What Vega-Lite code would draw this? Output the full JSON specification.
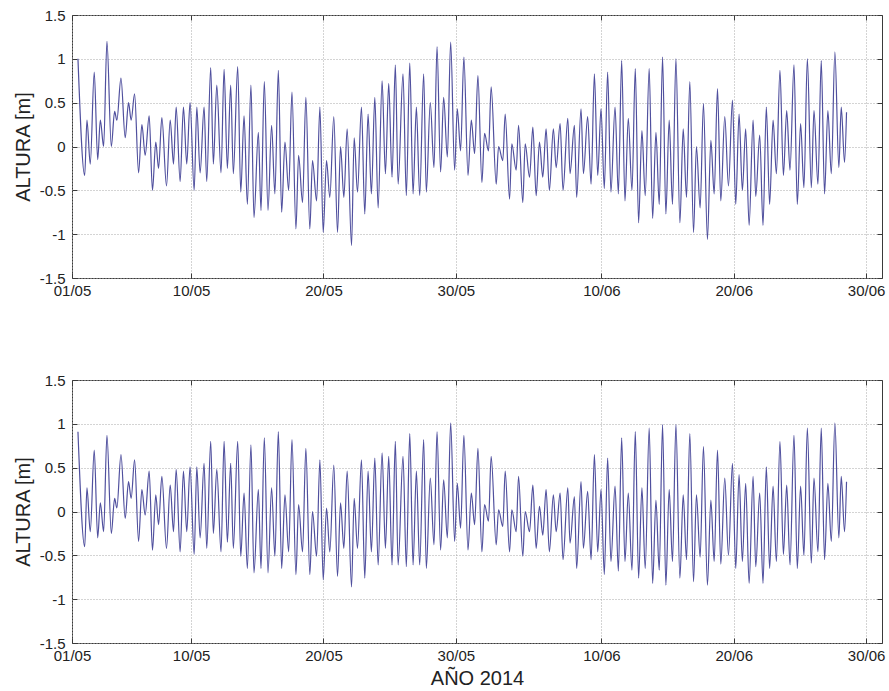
{
  "$schema": "https://vega.github.io/schema/vega-lite/v6.json",
  "autosize": {"type": "pad"},
  "padding": {"left": 12, "top": 7, "right": 4, "bottom": 2},
  "background": "white",
  "bounds": "flush",
  "spacing": 102,
  "config": {
    "font": "Liberation Sans",
    "view": {"stroke": "#3a3a3a", "strokeWidth": 1},
    "axis": {
      "labelFont": "Liberation Sans", "labelFontSize": 15, "labelColor": "#222222",
      "titleFont": "Liberation Sans", "titleFontSize": 20, "titleFontWeight": "normal", "titleColor": "#222222",
      "domain": false, "tickColor": "#3a3a3a", "tickSize": -5,
      "gridColor": "#a8a8a8", "gridDash": [1, 2], "gridWidth": 1
    }
  },
  "datasets": {
    "tide": [
      {"d":0.45,"a":1.00,"b":0.91},{"d":0.96,"a":-0.33,"b":-0.40},{"d":1.13,"a":0.30,"b":0.27},{"d":1.38,"a":-0.20,"b":-0.23},
      {"d":1.68,"a":0.85,"b":0.70},{"d":1.94,"a":-0.15,"b":-0.30},{"d":2.14,"a":0.30,"b":0.10},{"d":2.39,"a":0.00,"b":-0.23},
      {"d":2.64,"a":1.20,"b":0.87},{"d":2.97,"a":0.00,"b":-0.25},{"d":3.22,"a":0.40,"b":0.15},{"d":3.39,"a":0.30,"b":0.04},
      {"d":3.70,"a":0.78,"b":0.65},{"d":4.02,"a":0.10,"b":-0.08},{"d":4.27,"a":0.50,"b":0.34},{"d":4.47,"a":0.30,"b":0.15},
      {"d":4.73,"a":0.60,"b":0.59},{"d":5.03,"a":-0.30,"b":-0.34},{"d":5.28,"a":0.25,"b":0.25},{"d":5.53,"a":-0.10,"b":-0.04},
      {"d":5.83,"a":0.35,"b":0.46},{"d":6.08,"a":-0.50,"b":-0.44},{"d":6.33,"a":0.05,"b":0.19},{"d":6.54,"a":-0.25,"b":-0.15},
      {"d":6.79,"a":0.33,"b":0.40},{"d":7.14,"a":-0.45,"b":-0.42},{"d":7.42,"a":0.30,"b":0.30},{"d":7.67,"a":-0.20,"b":-0.23},
      {"d":7.87,"a":0.45,"b":0.48},{"d":8.17,"a":-0.40,"b":-0.46},{"d":8.42,"a":0.45,"b":0.46},{"d":8.67,"a":-0.20,"b":-0.23},
      {"d":8.92,"a":0.50,"b":0.51},{"d":9.23,"a":-0.50,"b":-0.49},{"d":9.43,"a":0.45,"b":0.51},{"d":9.68,"a":-0.30,"b":-0.30},
      {"d":9.98,"a":0.45,"b":0.55},{"d":10.18,"a":-0.40,"b":-0.42},{"d":10.48,"a":0.90,"b":0.80},{"d":10.68,"a":-0.20,"b":-0.25},
      {"d":10.94,"a":0.70,"b":0.48},{"d":11.26,"a":-0.30,"b":-0.46},{"d":11.49,"a":0.88,"b":0.80},{"d":11.74,"a":-0.25,"b":-0.35},
      {"d":11.99,"a":0.70,"b":0.55},{"d":12.19,"a":-0.31,"b":-0.42},{"d":12.52,"a":0.91,"b":0.80},{"d":12.75,"a":-0.52,"b":-0.51},
      {"d":13.00,"a":0.35,"b":0.21},{"d":13.25,"a":-0.66,"b":-0.65},{"d":13.52,"a":0.70,"b":0.76},{"d":13.75,"a":-0.81,"b":-0.70},
      {"d":14.08,"a":0.16,"b":0.25},{"d":14.28,"a":-0.73,"b":-0.65},{"d":14.53,"a":0.74,"b":0.84},{"d":14.81,"a":-0.73,"b":-0.70},
      {"d":15.08,"a":0.24,"b":0.27},{"d":15.33,"a":-0.54,"b":-0.51},{"d":15.59,"a":0.87,"b":0.91},{"d":15.84,"a":-0.75,"b":-0.65},
      {"d":16.09,"a":0.05,"b":0.19},{"d":16.37,"a":-0.50,"b":-0.46},{"d":16.62,"a":0.62,"b":0.82},{"d":16.92,"a":-0.94,"b":-0.72},
      {"d":17.12,"a":-0.10,"b":0.08},{"d":17.42,"a":-0.64,"b":-0.46},{"d":17.67,"a":0.56,"b":0.72},{"d":17.97,"a":-0.94,"b":-0.72},
      {"d":18.17,"a":-0.16,"b":0.00},{"d":18.48,"a":-0.62,"b":-0.51},{"d":18.73,"a":0.45,"b":0.59},{"d":18.98,"a":-0.98,"b":-0.78},
      {"d":19.23,"a":-0.16,"b":0.04},{"d":19.48,"a":-0.58,"b":-0.46},{"d":19.78,"a":0.34,"b":0.53},{"d":20.06,"a":-0.98,"b":-0.74},
      {"d":20.29,"a":0.00,"b":0.10},{"d":20.54,"a":-0.58,"b":-0.42},{"d":20.79,"a":0.20,"b":0.46},{"d":21.12,"a":-1.13,"b":-0.86},
      {"d":21.32,"a":0.10,"b":0.15},{"d":21.57,"a":-0.52,"b":-0.42},{"d":21.87,"a":0.45,"b":0.59},{"d":22.12,"a":-0.77,"b":-0.76},
      {"d":22.37,"a":0.37,"b":0.46},{"d":22.62,"a":-0.54,"b":-0.46},{"d":22.88,"a":0.56,"b":0.61},{"d":23.13,"a":-0.70,"b":-0.61},
      {"d":23.43,"a":0.75,"b":0.67},{"d":23.68,"a":-0.31,"b":-0.42},{"d":23.93,"a":0.72,"b":0.63},{"d":24.18,"a":-0.35,"b":-0.61},
      {"d":24.43,"a":0.93,"b":0.80},{"d":24.64,"a":-0.43,"b":-0.61},{"d":25.01,"a":0.83,"b":0.63},{"d":25.26,"a":-0.56,"b":-0.63},
      {"d":25.52,"a":0.95,"b":0.89},{"d":25.77,"a":-0.54,"b":-0.61},{"d":26.02,"a":0.45,"b":0.46},{"d":26.27,"a":-0.56,"b":-0.61},
      {"d":26.57,"a":0.83,"b":0.82},{"d":26.77,"a":-0.52,"b":-0.65},{"d":27.07,"a":0.50,"b":0.38},{"d":27.35,"a":-0.24,"b":-0.38},
      {"d":27.58,"a":1.14,"b":0.91},{"d":27.85,"a":-0.29,"b":-0.44},{"d":28.08,"a":0.56,"b":0.36},{"d":28.36,"a":-0.12,"b":-0.30},
      {"d":28.61,"a":1.19,"b":1.01},{"d":28.91,"a":-0.27,"b":-0.34},{"d":29.11,"a":0.43,"b":0.32},{"d":29.36,"a":-0.05,"b":-0.19},
      {"d":29.61,"a":1.02,"b":0.87},{"d":29.92,"a":-0.33,"b":-0.44},{"d":30.17,"a":0.30,"b":0.21},{"d":30.42,"a":-0.08,"b":-0.15},
      {"d":30.67,"a":0.81,"b":0.72},{"d":30.97,"a":-0.41,"b":-0.46},{"d":31.17,"a":0.15,"b":0.08},{"d":31.47,"a":-0.05,"b":-0.11},
      {"d":31.67,"a":0.68,"b":0.63},{"d":32.05,"a":-0.43,"b":-0.38},{"d":32.23,"a":0.00,"b":0.02},{"d":32.55,"a":-0.16,"b":-0.17},
      {"d":32.73,"a":0.37,"b":0.46},{"d":33.06,"a":-0.60,"b":-0.46},{"d":33.23,"a":0.03,"b":0.02},{"d":33.56,"a":-0.27,"b":-0.23},
      {"d":33.74,"a":0.24,"b":0.40},{"d":34.06,"a":-0.64,"b":-0.51},{"d":34.24,"a":0.03,"b":0.00},{"d":34.57,"a":-0.35,"b":-0.23},
      {"d":34.82,"a":0.22,"b":0.30},{"d":35.07,"a":-0.56,"b":-0.42},{"d":35.32,"a":0.05,"b":0.06},{"d":35.57,"a":-0.35,"b":-0.27},
      {"d":35.82,"a":0.20,"b":0.25},{"d":36.07,"a":-0.50,"b":-0.46},{"d":36.37,"a":0.20,"b":0.19},{"d":36.58,"a":-0.24,"b":-0.23},
      {"d":36.88,"a":0.26,"b":0.21},{"d":37.10,"a":-0.50,"b":-0.55},{"d":37.46,"a":0.32,"b":0.27},{"d":37.63,"a":-0.31,"b":-0.36},
      {"d":37.96,"a":0.24,"b":0.17},{"d":38.13,"a":-0.58,"b":-0.65},{"d":38.46,"a":0.43,"b":0.34},{"d":38.64,"a":-0.31,"b":-0.42},
      {"d":38.96,"a":0.34,"b":0.23},{"d":39.22,"a":-0.43,"b":-0.55},{"d":39.47,"a":0.83,"b":0.65},{"d":39.72,"a":-0.33,"b":-0.46},
      {"d":39.97,"a":0.43,"b":0.25},{"d":40.22,"a":-0.48,"b":-0.72},{"d":40.47,"a":0.85,"b":0.61},{"d":40.72,"a":-0.52,"b":-0.57},
      {"d":41.03,"a":0.45,"b":0.29},{"d":41.28,"a":-0.54,"b":-0.68},{"d":41.53,"a":0.98,"b":0.84},{"d":41.78,"a":-0.62,"b":-0.57},
      {"d":42.03,"a":0.32,"b":0.21},{"d":42.31,"a":-0.50,"b":-0.67},{"d":42.56,"a":0.89,"b":0.91},{"d":42.81,"a":-0.87,"b":-0.76},
      {"d":43.06,"a":0.18,"b":0.27},{"d":43.31,"a":-0.56,"b":-0.65},{"d":43.61,"a":0.89,"b":0.95},{"d":43.87,"a":-0.82,"b":-0.82},
      {"d":44.12,"a":0.16,"b":0.13},{"d":44.37,"a":-0.66,"b":-0.67},{"d":44.62,"a":1.02,"b":0.99},{"d":44.87,"a":-0.77,"b":-0.84},
      {"d":45.12,"a":0.30,"b":0.25},{"d":45.37,"a":-0.66,"b":-0.57},{"d":45.63,"a":1.00,"b":0.99},{"d":45.93,"a":-0.87,"b":-0.76},
      {"d":46.18,"a":0.20,"b":0.19},{"d":46.43,"a":-0.58,"b":-0.55},{"d":46.68,"a":0.74,"b":0.89},{"d":46.96,"a":-0.98,"b":-0.80},
      {"d":47.18,"a":0.00,"b":0.19},{"d":47.46,"a":-0.70,"b":-0.52},{"d":47.71,"a":0.49,"b":0.74},{"d":48.01,"a":-1.06,"b":-0.84},
      {"d":48.27,"a":0.07,"b":0.13},{"d":48.52,"a":-0.54,"b":-0.57},{"d":48.77,"a":0.66,"b":0.70},{"d":49.02,"a":-0.62,"b":-0.60},
      {"d":49.32,"a":0.34,"b":0.38},{"d":49.60,"a":-0.45,"b":-0.50},{"d":49.90,"a":0.53,"b":0.55},{"d":50.15,"a":-0.66,"b":-0.65},
      {"d":50.40,"a":0.37,"b":0.42},{"d":50.65,"a":-0.50,"b":-0.57},{"d":50.90,"a":0.20,"b":0.32},{"d":51.16,"a":-0.90,"b":-0.82},
      {"d":51.46,"a":0.30,"b":0.40},{"d":51.66,"a":-0.57,"b":-0.63},{"d":51.96,"a":0.13,"b":0.21},{"d":52.21,"a":-0.90,"b":-0.82},
      {"d":52.46,"a":0.45,"b":0.51},{"d":52.71,"a":-0.66,"b":-0.65},{"d":52.97,"a":0.30,"b":0.29},{"d":53.22,"a":-0.31,"b":-0.57},
      {"d":53.49,"a":0.87,"b":0.80},{"d":53.75,"a":-0.33,"b":-0.49},{"d":54.00,"a":0.41,"b":0.30},{"d":54.25,"a":-0.27,"b":-0.61},
      {"d":54.55,"a":0.93,"b":0.87},{"d":54.80,"a":-0.66,"b":-0.65},{"d":55.05,"a":0.26,"b":0.29},{"d":55.30,"a":-0.47,"b":-0.50},
      {"d":55.56,"a":1.00,"b":0.95},{"d":55.86,"a":-0.47,"b":-0.59},{"d":56.06,"a":0.41,"b":0.38},{"d":56.36,"a":-0.43,"b":-0.46},
      {"d":56.61,"a":0.98,"b":0.95},{"d":56.86,"a":-0.54,"b":-0.55},{"d":57.11,"a":0.41,"b":0.32},{"d":57.37,"a":-0.31,"b":-0.34},
      {"d":57.64,"a":1.08,"b":1.01},{"d":57.94,"a":-0.24,"b":-0.30},{"d":58.12,"a":0.45,"b":0.40},{"d":58.37,"a":-0.18,"b":-0.23},
      {"d":58.52,"a":0.39,"b":0.34}
    ]
  },
  "vconcat": [
    {
      "width": 810, "height": 263,
      "data": {"name": "tide"},
      "layer": [
        {
          "mark": {"type": "line", "color": "#50509e", "strokeWidth": 1.2, "interpolate": "monotone"},
          "encoding": {
            "x": {"field": "d", "type": "quantitative",
              "scale": {"domain": [0, 61.2], "nice": false, "zero": false},
              "axis": {"orient": "bottom", "title": null, "values": [0, 9, 19, 29, 40, 50, 60], "grid": true, "labelFlush": false, "labelPadding": 10,
                "labelExpr": "datum.value == 0 ? '01/05' : datum.value == 9 ? '10/05' : datum.value == 19 ? '20/05' : datum.value == 29 ? '30/05' : datum.value == 40 ? '10/06' : datum.value == 50 ? '20/06' : '30/06'"}},
            "y": {"field": "a", "type": "quantitative",
              "scale": {"domain": [-1.5, 1.5], "nice": false},
              "axis": {"orient": "left", "title": "ALTURA [m]", "values": [-1.5, -1, -0.5, 0, 0.5, 1, 1.5], "grid": true, "labelPadding": 12, "titlePadding": 6,
                "labelExpr": "toString(datum.value)"}}
          }
        },
        {
          "mark": {"type": "line", "strokeOpacity": 0},
          "encoding": {
            "x": {"field": "d", "type": "quantitative",
              "axis": {"orient": "top", "title": null, "labels": false, "grid": false, "values": [0, 9, 19, 29, 40, 50, 60]}},
            "y": {"field": "a", "type": "quantitative",
              "axis": {"orient": "right", "title": null, "labels": false, "grid": false, "values": [-1.5, -1, -0.5, 0, 0.5, 1, 1.5]}}
          }
        }
      ],
      "resolve": {"axis": {"x": "independent", "y": "independent"}}
    },
    {
      "width": 810, "height": 263,
      "data": {"name": "tide"},
      "layer": [
        {
          "mark": {"type": "line", "color": "#50509e", "strokeWidth": 1.2, "interpolate": "monotone"},
          "encoding": {
            "x": {"field": "d", "type": "quantitative",
              "scale": {"domain": [0, 61.2], "nice": false, "zero": false},
              "axis": {"orient": "bottom", "title": "AÑO 2014", "titlePadding": 5, "values": [0, 9, 19, 29, 40, 50, 60], "grid": true, "labelFlush": false, "labelPadding": 10,
                "labelExpr": "datum.value == 0 ? '01/05' : datum.value == 9 ? '10/05' : datum.value == 19 ? '20/05' : datum.value == 29 ? '30/05' : datum.value == 40 ? '10/06' : datum.value == 50 ? '20/06' : '30/06'"}},
            "y": {"field": "b", "type": "quantitative",
              "scale": {"domain": [-1.5, 1.5], "nice": false},
              "axis": {"orient": "left", "title": "ALTURA [m]", "values": [-1.5, -1, -0.5, 0, 0.5, 1, 1.5], "grid": true, "labelPadding": 12, "titlePadding": 6,
                "labelExpr": "toString(datum.value)"}}
          }
        },
        {
          "mark": {"type": "line", "strokeOpacity": 0},
          "encoding": {
            "x": {"field": "d", "type": "quantitative",
              "axis": {"orient": "top", "title": null, "labels": false, "grid": false, "values": [0, 9, 19, 29, 40, 50, 60]}},
            "y": {"field": "b", "type": "quantitative",
              "axis": {"orient": "right", "title": null, "labels": false, "grid": false, "values": [-1.5, -1, -0.5, 0, 0.5, 1, 1.5]}}
          }
        }
      ],
      "resolve": {"axis": {"x": "independent", "y": "independent"}}
    }
  ]
}
